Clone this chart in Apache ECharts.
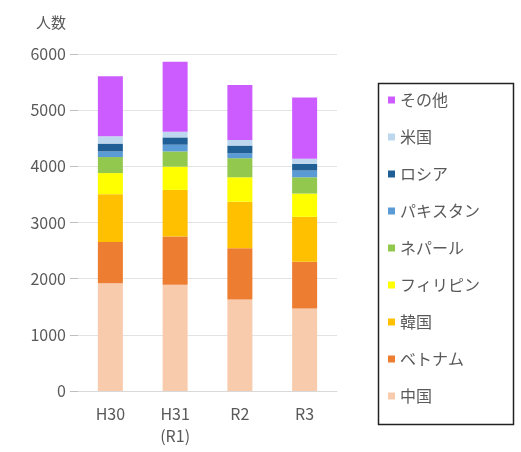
<!DOCTYPE html>
<html>
<head>
<meta charset="utf-8">
<script src="https://cdn.jsdelivr.net/npm/echarts@6/dist/echarts.min.js"></script>
<style>
  html, body { margin: 0; padding: 0; background: #fff; }
  #chart { width: 521px; height: 452px; }
</style>
</head>
<body>
<div id="chart"></div>
<script>
// 年度
const categories = ['H30', 'H31\n(R1)', 'R2', 'R3'];

// 国籍別人数（積み上げ順：下から）
const china     = [1920, 1890, 1630, 1470];
const vietnam   = [735, 860, 910, 830];
const korea     = [850, 830, 830, 800];
const philippines = [375, 415, 435, 415];
const nepal     = [285, 270, 340, 290];
const pakistan  = [100, 120, 90, 120];
const russia    = [140, 130, 135, 120];
const usa       = [130, 100, 100, 90];
const others    = [1070, 1245, 980, 1090];

const yTicks = [0, 1000, 2000, 3000, 4000, 5000, 6000];

const seriesDefs = [
  { name: '中国', data: china, color: '#F8CBAD' },
  { name: 'ベトナム', data: vietnam, color: '#ED7D31' },
  { name: '韓国', data: korea, color: '#FFC000' },
  { name: 'フィリピン', data: philippines, color: '#FFFF00' },
  { name: 'ネパール', data: nepal, color: '#92C84E' },
  { name: 'パキスタン', data: pakistan, color: '#5B9BD5' },
  { name: 'ロシア', data: russia, color: '#1F5F96' },
  { name: '米国', data: usa, color: '#BDD7EE' },
  { name: 'その他', data: others, color: '#CC5CFF' }
];

const font = '"Noto Sans CJK JP", "Noto Sans", sans-serif';
const textColor = '#595959';

const chart = echarts.init(document.getElementById('chart'), null, { renderer: 'canvas' });

chart.setOption({
  animation: false,
  backgroundColor: '#fff',
  textStyle: { fontFamily: font },
  grid: { left: 78, right: 184, top: 54, bottom: 61 },
  title: {
    text: '人数',
    left: 31, top: 10,
    textStyle: { fontSize: 15, fontWeight: 'normal', color: textColor, fontFamily: font }
  },
  // 凡例の枠
  graphic: [{
    type: 'rect',
    shape: { x: 378.5, y: 83.5, width: 135, height: 341 },
    style: { fill: 'none', stroke: '#222', lineWidth: 1.5 },
    silent: true
  }],
  legend: {
    orient: 'vertical',
    left: 378, top: 92,
    padding: [0, 0, 0, 10],
    itemWidth: 7, itemHeight: 7,
    itemGap: 21,
    icon: 'rect',
    textStyle: { fontSize: 16, color: textColor, fontFamily: font },
    data: seriesDefs.map(s => s.name).reverse()
  },
  xAxis: {
    type: 'category',
    data: categories,
    axisLine: { lineStyle: { color: '#d9d9d9' } },
    axisTick: { show: false },
    axisLabel: { fontSize: 16, color: textColor, margin: 12, lineHeight: 22, fontFamily: font }
  },
  yAxis: {
    type: 'value',
    min: yTicks[0], max: yTicks[yTicks.length - 1], interval: 1000,
    axisLine: { show: false },
    axisTick: { show: true, length: 8, lineStyle: { color: '#bfbfbf' } },
    axisLabel: { fontSize: 16, color: textColor, margin: 12, fontFamily: font, formatter: v => String(v) },
    splitLine: { lineStyle: { color: '#e3e3e3' } }
  },
  series: seriesDefs.map(s => ({
    name: s.name,
    type: 'bar',
    stack: 'total',
    data: s.data,
    barWidth: 25,
    itemStyle: { color: s.color }
  }))
});
</script>
</body>
</html>
